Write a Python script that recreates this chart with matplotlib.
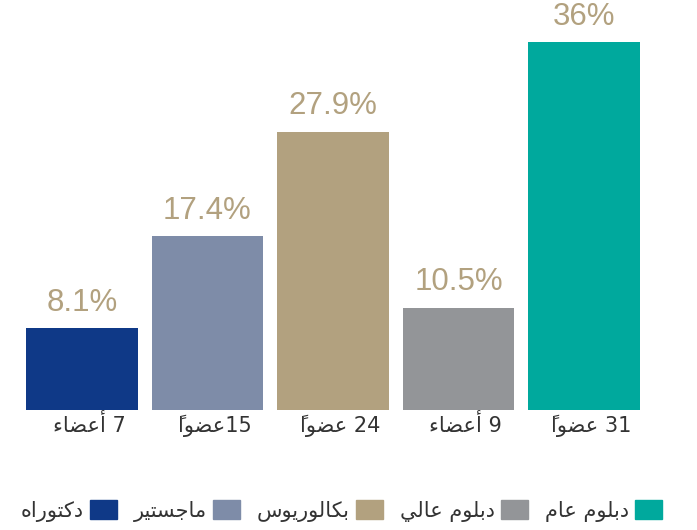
import matplotlib
matplotlib.use("Agg")
import matplotlib.pyplot as plt
from matplotlib.patches import Patch

# data
categories = ["دكتوراه", "ماجستير", "بكالوريوس", "دبلوم عالي", "دبلوم عام"]
members = ["7 أعضاء", "15عضواً", "24 عضواً", "9 أعضاء", "31 عضواً"]
pct_labels = ["8.1%", "17.4%", "27.9%", "10.5%", "36%"]
bar_heights = [8.0, 17.0, 27.2, 10.0, 36.0]  # heights as drawn in the picture
colors = ["#0f3987", "#7e8ca8", "#b2a17f", "#939598", "#00a99d"]

# matplotlib has no Arabic shaping, so pick presentation forms by hand
# forms: (isolated, final, initial, medial); two entries = joins only to the right
FORMS = {
    "\u0621": ("\uFE80",),
    "\u0623": ("\uFE83", "\uFE84"),
    "\u0627": ("\uFE8D", "\uFE8E"),
    "\u0628": ("\uFE8F", "\uFE90", "\uFE91", "\uFE92"),
    "\u062A": ("\uFE95", "\uFE96", "\uFE97", "\uFE98"),
    "\u062C": ("\uFE9D", "\uFE9E", "\uFE9F", "\uFEA0"),
    "\u062F": ("\uFEA9", "\uFEAA"),
    "\u0631": ("\uFEAD", "\uFEAE"),
    "\u0633": ("\uFEB1", "\uFEB2", "\uFEB3", "\uFEB4"),
    "\u0636": ("\uFEBD", "\uFEBE", "\uFEBF", "\uFEC0"),
    "\u0639": ("\uFEC9", "\uFECA", "\uFECB", "\uFECC"),
    "\u0643": ("\uFED9", "\uFEDA", "\uFEDB", "\uFEDC"),
    "\u0644": ("\uFEDD", "\uFEDE", "\uFEDF", "\uFEE0"),
    "\u0645": ("\uFEE1", "\uFEE2", "\uFEE3", "\uFEE4"),
    "\u0647": ("\uFEE9", "\uFEEA", "\uFEEB", "\uFEEC"),
    "\u0648": ("\uFEED", "\uFEEE"),
    "\u064A": ("\uFEF1", "\uFEF2", "\uFEF3", "\uFEF4"),
}
MARKS = {"\u064B"}


def shape(text):
    chars = list(text)
    out = []
    for i, c in enumerate(chars):
        if c not in FORMS:
            out.append(c)
            continue
        j = i - 1
        while j >= 0 and chars[j] in MARKS:
            j -= 1
        k = i + 1
        while k < len(chars) and chars[k] in MARKS:
            k += 1
        prev_c = chars[j] if j >= 0 else None
        next_c = chars[k] if k < len(chars) else None
        f = FORMS[c]
        join_prev = prev_c in FORMS and len(FORMS[prev_c]) == 4 and len(f) >= 2
        join_next = next_c in FORMS and len(FORMS[next_c]) >= 2 and len(f) == 4
        if join_prev and join_next:
            out.append(f[3])
        elif join_prev:
            out.append(f[1])
        elif join_next:
            out.append(f[2])
        else:
            out.append(f[0])
    return "".join(out)


def visual(text):
    s = shape(text)
    # split in runs of digits / other, right-to-left paragraph
    runs = []
    for c in s:
        isdig = c.isdigit() or c in ".%"
        if runs and runs[-1][0] == isdig:
            runs[-1][1].append(c)
        else:
            runs.append([isdig, [c]])
    parts = []
    for isdig, cs in reversed(runs):
        if isdig:
            parts.append("".join(cs))
        else:
            # plain reversal; DejaVu's zero-width marks sit right of the pen,
            # so the mark ends up over the letter that follows it visually
            parts.append("".join(reversed(cs)))
    return "".join(parts)


fig = plt.figure(figsize=(6.97, 5.30), dpi=100)
ax = fig.add_axes([0.0276, 0.2264, 0.9003, 0.7736])

x = range(len(categories))
bars = ax.bar(x, bar_heights, width=0.892, color=colors)

for b, lab in zip(bars, pct_labels):
    ax.annotate(lab, (b.get_x() + b.get_width() / 2, b.get_height()),
                xytext=(0, 7.5), textcoords="offset points", ha="center", va="bottom",
                fontsize=22.5, color="#b2a17f", family="Liberation Sans")

for b, lab in zip(bars, members):
    ax.annotate(visual(lab), (b.get_x() + b.get_width() / 2, 0),
                xytext=(5, -3), textcoords="offset points", ha="center", va="top",
                fontsize=15, color="#333333", family="DejaVu Sans")

ax.set_xlim(-0.5, 4.5)
ax.set_ylim(0, 40.1)
ax.axis("off")

handles = [Patch(color=c) for c in colors]
fig.legend(handles, [visual(c) for c in categories], ncol=5, markerfirst=False,
           loc="lower center", bbox_to_anchor=(0.49, -0.02), frameon=False,
           prop={"family": "DejaVu Sans", "size": 15}, handlelength=1.3,
           handleheight=1.0, handletextpad=0.3, columnspacing=0.8, labelcolor="#333333")

fig.savefig("out.png", dpi=100)
